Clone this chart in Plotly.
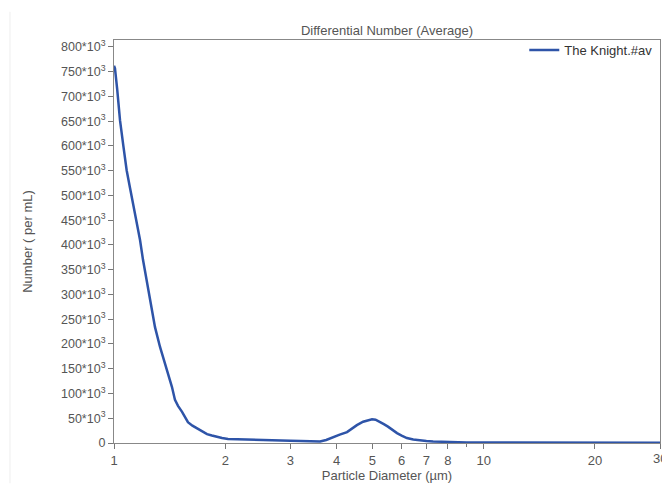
import math
import plotly.graph_objects as go

# Particle diameter (µm) and differential number (per mL)
diameter = [1.0, 1.006, 1.02, 1.038, 1.06, 1.082, 1.105, 1.126, 1.15, 1.176, 1.198, 1.225,
            1.251, 1.291, 1.332, 1.37, 1.40, 1.435, 1.462, 1.49, 1.528, 1.555, 1.585, 1.63,
            1.677, 1.73, 1.785, 1.84, 1.90, 1.96, 2.034, 2.2, 2.4, 2.6, 2.8, 3.0, 3.2, 3.4,
            3.61, 3.75, 3.91, 4.08, 4.27, 4.4, 4.54, 4.72, 4.85, 4.99, 5.1, 5.24, 5.37, 5.51,
            5.67, 5.83, 6.0, 6.2, 6.45, 6.73, 7.0, 7.3, 7.8, 8.26, 9.0, 10, 11, 12.5, 14, 16,
            18, 20, 22, 25, 28, 30]
number_k = [762, 757, 715, 652, 600, 551, 515, 485, 448, 410, 370, 330,
            289, 234, 194, 165, 141, 113, 87, 75, 63, 52, 42, 35,
            30, 23, 18, 15, 12, 10, 8, 7, 6, 5.5, 5, 4.5, 4, 3.5,
            3, 6, 12, 17, 22, 29, 36, 43, 46, 48, 47, 43, 38, 33,
            26, 20, 15, 10, 7, 5, 4, 3, 2, 1.5, 1.2, 1, 0.9, 0.8, 0.7, 0.7,
            0.6, 0.6, 0.5, 0.5, 0.5, 0.5]
number = [v * 1000 for v in number_k]

y_ticks = [0, 50000, 100000, 150000, 200000, 250000, 300000, 350000, 400000,
           450000, 500000, 550000, 600000, 650000, 700000, 750000, 800000]
y_ticktext = ["0"] + [f"{int(v/1000)}*10<sup>3</sup>" for v in y_ticks[1:]]
x_ticks = [1, 2, 3, 4, 5, 6, 7, 8, 10, 20, 30]
x_ticktext = [str(v) for v in x_ticks]

font = "Arial, Liberation Sans, sans-serif"
gray = "#555555"
x_max_log = 1.4771

fig = go.Figure()
fig.add_trace(go.Scatter(
    x=diameter, y=number, mode="lines", name="The Knight.#av",
    line=dict(color="#2E54A8", width=2.5),
))

fig.update_layout(
    width=662, height=491,
    margin=dict(l=114, r=2, t=40, b=48, autoexpand=False),
    paper_bgcolor="white", plot_bgcolor="white",
    font=dict(family=font, size=13, color=gray),
    title=dict(text="Differential Number (Average)", x=0.5, xref="paper",
               y=1, yref="paper", yanchor="bottom", pad=dict(b=5), automargin=False,
               font=dict(family=font, size=13, color=gray)),
    showlegend=True,
    legend=dict(x=0.995, y=1.012, xanchor="right", yanchor="top", bgcolor="rgba(0,0,0,0)",
                font=dict(family=font, size=13, color="#333333"),
                itemwidth=30, tracegroupgap=0),
    xaxis=dict(
        type="log", range=[0, x_max_log], tickvals=x_ticks, ticktext=x_ticktext,
        ticks="outside", ticklen=5, tickcolor="#777777", showgrid=False,
        zeroline=False, showline=True, linecolor="#888888", mirror=True,
        automargin=False,
        tickfont=dict(size=13, color=gray),
        minor=dict(tickvals=[9], ticks="outside", ticklen=3, tickcolor="#777777"),
        title=dict(text="Particle Diameter (µm)", standoff=3,
                   font=dict(size=13, color=gray)),
    ),
    yaxis=dict(
        range=[0, 814000], tickvals=y_ticks, ticktext=y_ticktext,
        ticks="outside", ticklen=5, tickcolor="#777777", showgrid=False,
        zeroline=False, showline=True, linecolor="#888888", mirror=True,
        automargin=False,
        tickfont=dict(size=12.5, color=gray),
        title=dict(text="Number ( per mL)", standoff=25,
                   font=dict(size=13, color=gray)),
    ),
    shapes=[dict(type="line", xref="paper", yref="paper", x0=-0.1905, x1=-0.1905,
                 y0=-0.1, y1=1.07, line=dict(color="#eeeeee", width=1))],
    # edge tick label "30", cut off by the figure edge as in the original
    annotations=[dict(text=x_ticktext[-1], x=x_max_log, xref="x",
                      y=0, yref="paper", yanchor="top", xanchor="center", yshift=-6,
                      showarrow=False, font=dict(size=13, color=gray))],
)

fig.write_html(
    "out.html",
    config={"displayModeBar": False},
    post_script="document.body.style.margin='0';document.body.style.overflow='hidden';",
)
